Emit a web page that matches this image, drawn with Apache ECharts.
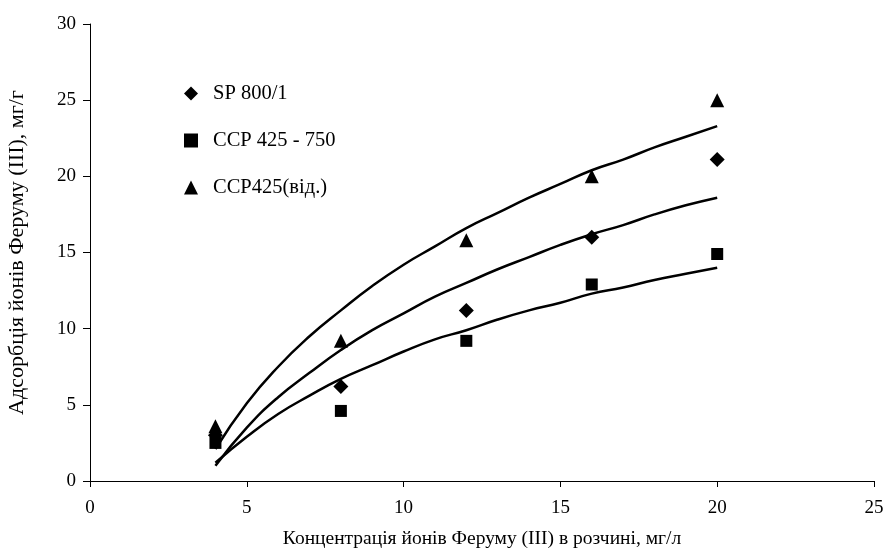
<!DOCTYPE html>
<html><head><meta charset="utf-8">
<script src="https://cdn.jsdelivr.net/npm/echarts@6/dist/echarts.min.js"></script>
<style>html,body{margin:0;padding:0;background:#fff}#c{width:884px;height:554px}</style>
</head><body><div id="c"></div>
<script>
var xPoints = [4, 8, 12, 16, 20];
var sp800 = [3.0, 6.2, 11.2, 16.0, 21.1];
var ccp425750 = [2.5, 4.6, 9.2, 12.9, 14.9];
var ccp425vid = [3.6, 9.2, 15.8, 20.0, 25.0];
var trendX = [4,5,6,7,8,9,10,11,12,13,14,15,16,17,18,19,20];
var trendSp = [1.0,3.5,5.5,7.1,8.6,9.9,11.0,12.1,13.0,13.9,14.7,15.5,16.2,16.8,17.5,18.1,18.6];
var trendCcp = [1.2,2.9,4.4,5.6,6.7,7.6,8.5,9.3,9.9,10.6,11.2,11.7,12.3,12.7,13.2,13.6,14.0];
var trendVid = [2.1,5.1,7.5,9.5,11.2,12.8,14.2,15.4,16.6,17.6,18.6,19.5,20.4,21.1,21.9,22.6,23.3];
var names = ['SP 800/1', 'CCP 425 - 750', 'CCP425(від.)'];
var xTitle = 'Концентрація йонів Феруму (ІІІ) в розчині, мг/л';
var yTitle = 'Адсорбція йонів Феруму (ІІІ), мг/г';

function pairs(xs, ys){ return xs.map(function(x,i){return [x, ys[i]];}); }
var font = 'Liberation Serif, Times New Roman, serif';
var chart = echarts.init(document.getElementById('c'));
function lineS(ys){
  return {type:'line', data: pairs(trendX, ys), smooth:true, showSymbol:false, symbol:'none',
    lineStyle:{color:'#000', width:2.5}, z:1, silent:true};
}
chart.setOption({
  animation:false,
  grid:{left:90, right:10, top:24, bottom:73, containLabel:false, outerBoundsMode:'none'},
  legend:{
    orient:'vertical', left:179, top:78, itemGap:26, itemWidth:14, itemHeight:14,
    data:names, textStyle:{fontFamily:font, fontSize:20.5, lineHeight:20, color:'#000', padding:[0,0,0,10]}
  },
  xAxis:{type:'value', min:0, max:25, interval:5,
    axisLine:{show:true, onZero:false, lineStyle:{color:'#000', width:1}},
    axisTick:{show:true, inside:false, length:6, lineStyle:{color:'#000'}},
    axisLabel:{fontFamily:font, fontSize:19, color:'#000', margin:18},
    splitLine:{show:false},
    name:xTitle, nameLocation:'middle', nameGap:48,
    nameTextStyle:{fontFamily:font, fontSize:19.5, color:'#000'}
  },
  yAxis:{type:'value', min:0, max:30, interval:5,
    axisLine:{show:true, onZero:false, lineStyle:{color:'#000', width:1}},
    axisTick:{show:true, inside:false, length:7, lineStyle:{color:'#000'}},
    axisLabel:{fontFamily:font, fontSize:19, color:'#000', margin:14},
    splitLine:{show:false},
    name:yTitle, nameLocation:'middle', nameGap:62, nameRotate:90,
    nameTextStyle:{fontFamily:font, fontSize:22, color:'#000'}
  },
  series:[
    {name:names[0], type:'scatter', data:pairs(xPoints, sp800), symbol:'diamond', symbolSize:15, itemStyle:{color:'#000', opacity:1}, z:3},
    {name:names[1], type:'scatter', data:pairs(xPoints, ccp425750), symbol:'rect', symbolSize:12, itemStyle:{color:'#000', opacity:1}, z:3},
    {name:names[2], type:'scatter', data:pairs(xPoints, ccp425vid), symbol:'triangle', symbolSize:14, itemStyle:{color:'#000', opacity:1}, z:3},
    lineS(trendSp), lineS(trendCcp), lineS(trendVid)
  ]
});
</script></body></html>
